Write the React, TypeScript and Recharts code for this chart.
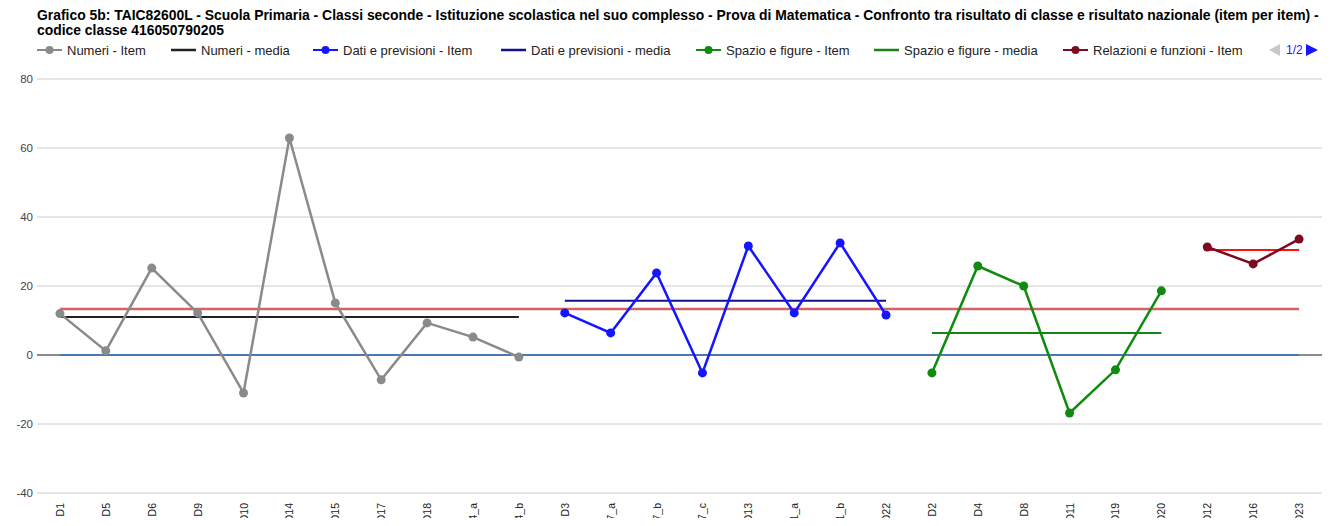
import { LineChart, Line, XAxis, YAxis, CartesianGrid, ReferenceLine } from 'recharts';

const numeriCats = ['D1', 'D5', 'D6', 'D9', 'D10', 'D14', 'D15', 'D17', 'D18', 'D24_a', 'D24_b'];
const datiCats = ['D3', 'D7_a', 'D7_b', 'D7_c', 'D13', 'D21_a', 'D21_b', 'D22'];
const spazioCats = ['D2', 'D4', 'D8', 'D11', 'D19', 'D20'];
const relazioniCats = ['D12', 'D16', 'D23'];

const numeriItem = [12, 1.2, 25.2, 12.2, -11, 62.9, 15.1, -7.2, 9.3, 5.2, -0.6];
const datiItem = [12.2, 6.4, 23.8, -5.2, 31.6, 12.2, 32.5, 11.6];
const spazioItem = [-5.2, 25.8, 20, -16.8, -4.3, 18.6];
const relazioniItem = [31.3, 26.4, 33.6];

const numeriMedia = 11;
const datiMedia = 15.7;
const spazioMedia = 6.4;
const relazioniMedia = 30.4;
const classeMedia = 13.3;
const nazionale = 0;

const yTicks = [-40, -20, 0, 20, 40, 60, 80];

const groups = [
  { cats: numeriCats, item: numeriItem, media: numeriMedia, key: 'numeri' },
  { cats: datiCats, item: datiItem, media: datiMedia, key: 'dati' },
  { cats: spazioCats, item: spazioItem, media: spazioMedia, key: 'spazio' },
  { cats: relazioniCats, item: relazioniItem, media: relazioniMedia, key: 'relazioni' },
];

const data: Record<string, any>[] = [];
groups.forEach((g) => {
  g.cats.forEach((c, i) => {
    data.push({
      cat: c,
      [g.key + 'Item']: g.item[i],
      [g.key + 'Media']: g.media,
      classe: classeMedia,
      nazionale: nazionale,
    });
  });
});

// legend entries shown on page 1 of 2, with their left edge in px
const legendItems = [
  { label: 'Numeri - Item', color: '#8a8a8a', dot: true, left: 37 },
  { label: 'Numeri - media', color: '#222222', dot: false, left: 171 },
  { label: 'Dati e previsioni - Item', color: '#1515ff', dot: true, left: 313 },
  { label: 'Dati e previsioni - media', color: '#101090', dot: false, left: 501 },
  { label: 'Spazio e figure - Item', color: '#108a10', dot: true, left: 696 },
  { label: 'Spazio e figure - media', color: '#1a801a', dot: false, left: 874 },
  { label: 'Relazioni e funzioni - Item', color: '#7d0a1e', dot: true, left: 1063 },
];

const font = 'Arial, "Liberation Sans", sans-serif';

function XTick({ x, y, payload }: any) {
  return (
    <g transform={`translate(${x},${y})`}>
      <text
        transform="rotate(-90)"
        x={-8}
        y={4}
        textAnchor="end"
        fontSize={10.5}
        fill="#222"
        fontFamily={font}
      >
        {payload.value}
      </text>
    </g>
  );
}

function LegendBar() {
  return (
    <div style={{ position: 'absolute', left: 0, top: 43, width: 1332, height: 14, fontFamily: font, fontSize: 13, color: '#222', whiteSpace: 'nowrap' }}>
      {legendItems.map((it) => (
        <div key={it.label} style={{ position: 'absolute', left: it.left, top: 0, display: 'flex', alignItems: 'center', height: 14 }}>
          <svg width={25} height={14} style={{ marginRight: 5 }}>
            <line x1={0} y1={7} x2={25} y2={7} stroke={it.color} strokeWidth={it.dot ? 2 : 2.5} />
            {it.dot && <circle cx={12.5} cy={7} r={4} fill={it.color} />}
          </svg>
          <span>{it.label}</span>
        </div>
      ))}
      <div style={{ position: 'absolute', left: 1268, top: 0, display: 'flex', alignItems: 'center', height: 14 }}>
        <svg width={14} height={14}>
          <polygon points="12,1 12,13 1,7" fill="#c8c8c8" />
        </svg>
        <span style={{ color: '#1515ff', margin: '0 2px 0 4px', fontSize: 12 }}>1/2</span>
        <svg width={14} height={14}>
          <polygon points="1,1 1,13 13,7" fill="#1515ff" />
        </svg>
      </div>
    </div>
  );
}

export default function App() {
  return (
    <div
      style={{
        position: 'relative',
        margin: -8,
        width: 1332,
        height: 526,
        overflow: 'hidden',
        background: '#fff',
        fontFamily: font,
      }}
    >
      <div
        style={{
          position: 'absolute',
          left: 37,
          top: 8,
          fontSize: 13.9,
          fontWeight: 'bold',
          lineHeight: '15px',
          color: '#000',
          whiteSpace: 'nowrap',
        }}
      >
        Grafico 5b: TAIC82600L - Scuola Primaria - Classi seconde - Istituzione scolastica nel suo complesso - Prova di
        Matematica - Confronto tra risultato di classe e risultato nazionale (item per item) -
        <br />
        codice classe 416050790205
      </div>
      <LegendBar />
      <div style={{ position: 'absolute', left: 0, top: 0 }}>
        <LineChart width={1332} height={540} data={data} margin={{ top: 79, right: 10, bottom: 7, left: 0 }}>
          <CartesianGrid vertical={false} stroke="#cccccc" />
          <XAxis
            dataKey="cat"
            scale="band"
            interval={0}
            height={40}
            axisLine={false}
            tickLine={false}
            tickSize={0}
            tick={<XTick />}
          />
          <YAxis
            width={37}
            domain={[-40, 80]}
            ticks={yTicks}
            axisLine={false}
            tickLine={false}
            tickSize={0}
            tickMargin={4}
            tick={{ fontSize: 11.5, fill: '#444', fontFamily: font }}
          />
          <ReferenceLine y={0} stroke="#333" strokeWidth={1} />
          <Line dataKey="classe" stroke="#d26464" strokeWidth={2.5} dot={false} isAnimationActive={false} />
          <Line dataKey="nazionale" stroke="#4a78b4" strokeWidth={2} dot={false} isAnimationActive={false} />
          <Line dataKey="numeriMedia" stroke="#222" strokeWidth={2} dot={false} isAnimationActive={false} />
          <Line dataKey="numeriItem" stroke="#8a8a8a" strokeWidth={2.5} dot={{ r: 4.5, fill: '#8a8a8a', stroke: '#8a8a8a', strokeWidth: 0 }} isAnimationActive={false} />
          <Line dataKey="datiMedia" stroke="#101090" strokeWidth={2} dot={false} isAnimationActive={false} />
          <Line dataKey="datiItem" stroke="#1515ff" strokeWidth={2.5} dot={{ r: 4.5, fill: '#1515ff', stroke: '#1515ff', strokeWidth: 0 }} isAnimationActive={false} />
          <Line dataKey="spazioMedia" stroke="#1a801a" strokeWidth={2} dot={false} isAnimationActive={false} />
          <Line dataKey="spazioItem" stroke="#108a10" strokeWidth={2.5} dot={{ r: 4.5, fill: '#108a10', stroke: '#108a10', strokeWidth: 0 }} isAnimationActive={false} />
          <Line dataKey="relazioniMedia" stroke="#ff1010" strokeWidth={2} dot={false} isAnimationActive={false} />
          <Line dataKey="relazioniItem" stroke="#7d0a1e" strokeWidth={2.5} dot={{ r: 4.5, fill: '#7d0a1e', stroke: '#7d0a1e', strokeWidth: 0 }} isAnimationActive={false} />
        </LineChart>
      </div>
    </div>
  );
}
